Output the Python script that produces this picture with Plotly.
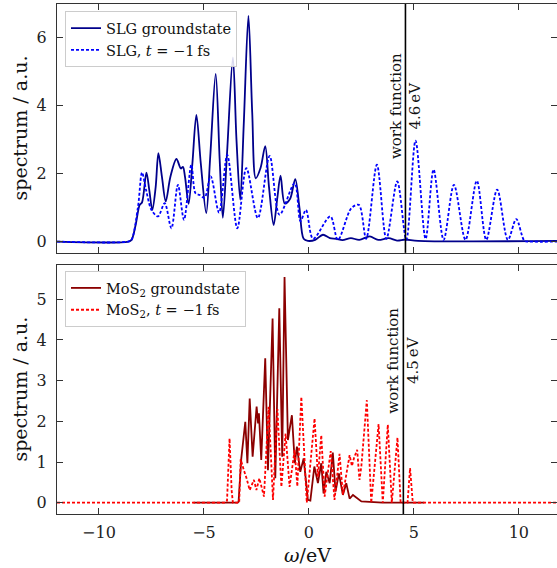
import plotly.graph_objects as go

# ---------------- data ----------------
slg_gs_x = [-12, -8.6, -8.45, -8.25, -8.06, -7.95, -7.74, -7.6, -7.46, -7.3, -7.17, -7.0, -6.82, -6.6,
            -6.31, -6.1, -6.0, -5.9, -5.73, -5.55, -5.36, -5.15, -4.89, -4.7, -4.44, -4.25, -4.1, -3.9,
            -3.62, -3.45, -3.27, -3.1, -2.88, -2.7, -2.53, -2.3, -2.08, -1.9, -1.68, -1.5, -1.35, -1.15,
            -0.9, -0.65, -0.45, -0.25, -0.05, 0.3, 0.67, 1.0, 1.3, 1.6, 2.0, 2.4, 2.9, 3.3, 3.8, 4.2,
            4.6, 5.2, 12]
slg_gs_y = [0, 0, 0.05, 0.5, 1.08, 1.15, 2.03, 1.5, 0.93, 1.6, 2.6, 1.9, 1.18, 1.9,
            2.43, 2.15, 2.2, 1.9, 1.11, 2.3, 3.73, 2.3, 0.84, 2.5, 4.93, 2.4, 0.7, 2.6,
            5.42, 3.0, 1.23, 3.5, 6.64, 3.8, 1.86, 2.17, 2.81, 1.6, 0.49, 1.3, 1.94, 1.12,
            1.25, 1.84, 1.0, 0.08, 0.02, 0.05, 0.2, 0.1, 0.08, 0.04, 0.1, 0.05, 0.15, 0.05, 0.1, 0.03,
            0.06, 0.02, 0.02]

slg_t_x = [-12, -8.6, -8.45, -8.14, -7.95, -7.75, -7.5, -7.19, -6.87, -6.55, -6.24, -5.95, -5.6,
           -5.4, -5.2, -4.97, -4.68, -4.28, -3.89, -3.41, -2.98, -2.43, -1.87, -1.40, -0.68, -0.4,
           -0.14, 0.2, 1.02, 1.38, 2.02, 2.38, 2.73, 3.24, 3.69, 4.21, 4.64, 5.08, 5.56, 5.94, 6.42,
           6.91, 7.46, 8.0, 8.45, 8.97, 9.48, 9.88, 10.27, 10.5, 12]
slg_t_y = [0, 0, 0.05, 1.03, 2.03, 1.5, 0.93, 0.74, 1.13, 0.39, 1.67, 0.64, 2.26,
           1.42, 1.37, 1.29, 1.92, 0.85, 2.55, 0.39, 2.16, 0.69, 2.52, 0.79, 1.72, 0.6,
           0.93, 0.08, 0.74, 0.05, 0.98, 1.08, 0.08, 2.26, 0.08, 1.77, 0.05, 2.97, 0.08, 2.12, 0.05,
           1.67, 0.05, 1.79, 0.05, 1.53, 0.05, 0.66, 0.02, 0, 0]

mos2_gs_x = [-5.5, -3.4, -3.35, -3.22, -3.03, -2.93, -2.82, -2.68, -2.49, -2.42, -2.38, -2.27, -2.08,
             -1.95, -1.73, -1.6, -1.41, -1.27, -1.16, -1.0, -0.81, -0.67, -0.57, -0.41, -0.25, -0.05,
             0.07, 0.26, 0.43, 0.59, 0.7, 0.83, 0.99, 1.14, 1.27, 1.43, 1.62, 1.78, 1.94, 2.1, 2.5,
             3.3, 3.5, 5.5]
mos2_gs_y = [0, 0, 0.02, 1.09, 1.99, 0.97, 2.56, 1.13, 2.36, 1.95, 2.2, 1.05, 3.55,
             0.8, 4.53, 0.6, 4.78, 1.13, 5.55, 1.54, 2.15, 0.97, 1.38, 0.76, 1.09, 0.07,
             0.05, 0.89, 0.48, 0.97, 0.23, 0.76, 0.48, 1.23, 0.27, 0.72, 0.19, 0.48, 0.1, 0.19, 0.03,
             0.01, 0, 0]

mos2_t_x = [-12, -3.98, -3.9, -3.78, -3.68, -3.62, -3.32, -3.25, -3.1, -2.97, -2.82, -2.62, -2.5,
            -2.36, -2.14, -1.92, -1.71, -1.5, -1.31, -1.11, -0.92, -0.68, -0.55, -0.36, -0.1, 0.27,
            0.43, 0.59, 0.75, 1.04, 1.22, 1.46, 1.62, 1.8, 1.94, 2.05, 2.15, 2.3, 2.41, 2.5, 2.76,
            2.97, 3.32, 3.52, 3.76, 3.95, 4.22, 4.37, 4.7, 4.82, 4.95, 12]
mos2_t_y = [0, 0, 0.05, 1.58, 0.3, 0, 0, 1.07, 0.8, 0.6, 0.31, 0.56, 0.31,
            0.6, 0.15, 2.36, 0.07, 2.3, 0.39, 1.7, 0.39, 1.29, 0.4, 2.6, 0.0, 2.07,
            0.64, 1.66, 0.15, 1.27, 0.07, 1.2, 0.2, 0.8, 1.17, 0.9, 1.1, 1.3, 0.56, 0.9, 2.52,
            0, 1.93, 0, 1.92, 0, 1.6, 0, 0, 0.85, 0, 0]

x_ticks = [-10, -5, 0, 5, 10]
top_y_ticks = [0, 2, 4, 6]
bot_y_ticks = [0, 1, 2, 3, 4, 5]
wf_slg = 4.6
wf_mos2 = 4.5

FONT = "DejaVu Serif"
AX = "#333333"

fig = go.Figure()
fig.add_trace(go.Scatter(x=slg_gs_x, y=slg_gs_y, mode="lines", name="SLG groundstate",
                         line=dict(color="#00008B", width=1.8, shape="spline", smoothing=0.9),
                         xaxis="x", yaxis="y", legend="legend"))
fig.add_trace(go.Scatter(x=slg_t_x, y=slg_t_y, mode="lines", name="SLG, <i>t</i> = −1\u2009fs",
                         line=dict(color="#0000FF", width=1.8, dash="3px,2px", shape="spline", smoothing=0.9),
                         xaxis="x", yaxis="y", legend="legend"))
fig.add_trace(go.Scatter(x=mos2_gs_x, y=mos2_gs_y, mode="lines", name="MoS<sub>2</sub> groundstate",
                         line=dict(color="#8B0000", width=1.8),
                         xaxis="x2", yaxis="y2", legend="legend2"))
fig.add_trace(go.Scatter(x=mos2_t_x, y=mos2_t_y, mode="lines", name="MoS<sub>2</sub>, <i>t</i> = −1\u2009fs",
                         line=dict(color="#FF0000", width=1.8, dash="3px,2px"),
                         xaxis="x2", yaxis="y2", legend="legend2"))

axis_common = dict(showline=True, linecolor=AX, linewidth=1, mirror="allticks", ticks="inside",
                   ticklen=6, tickcolor=AX, tickwidth=1, showgrid=False, zeroline=False,
                   tickfont=dict(family=FONT, size=16, color="#222"))

fig.update_layout(
    width=557, height=568,
    margin=dict(l=57, r=0, t=4, b=54),
    paper_bgcolor="white", plot_bgcolor="white",
    showlegend=True,
    xaxis=dict(domain=[0, 1], anchor="y", range=[-12, 11.82], tickvals=x_ticks,
               showticklabels=False, **axis_common),
    yaxis=dict(domain=[0.512, 1], anchor="x", range=[-0.333, 6.99], tickvals=top_y_ticks,
               ticklabelstandoff=6, **axis_common),
    xaxis2=dict(domain=[0, 1], anchor="y2", range=[-12, 11.82], tickvals=x_ticks,
                ticklabelstandoff=4, **axis_common),
    yaxis2=dict(domain=[0, 0.488], anchor="x2", range=[-0.278, 5.84], tickvals=bot_y_ticks,
                ticklabelstandoff=6, **axis_common),
    legend=dict(x=0.016, y=0.986, xanchor="left", yanchor="top",
                bgcolor="rgba(255,255,255,0.85)", bordercolor="#cccccc", borderwidth=1,
                font=dict(family=FONT, size=14.5, color="#111"), tracegroupgap=0),
    legend2=dict(x=0.016, y=0.4765, xanchor="left", yanchor="top",
                 bgcolor="rgba(255,255,255,0.85)", bordercolor="#cccccc", borderwidth=1,
                 font=dict(family=FONT, size=14.5, color="#111"), tracegroupgap=0),
)

fig.add_shape(type="line", xref="x", yref="y domain", x0=wf_slg, x1=wf_slg, y0=0, y1=1,
              line=dict(color="black", width=1.6))
fig.add_shape(type="line", xref="x2", yref="y2 domain", x0=wf_mos2, x1=wf_mos2, y0=0, y1=1,
              line=dict(color="black", width=1.6))

fig.add_annotation(x=wf_slg, y=4.0, xref="x", yref="y", text="work function<br>4.6\u2009eV",
                   textangle=-90, showarrow=False, xanchor="center", yanchor="middle",
                   font=dict(family=FONT, size=15, color="#111"))
fig.add_annotation(x=wf_mos2, y=3.5, xref="x2", yref="y2", text="work function<br>4.5\u2009eV",
                   textangle=-90, showarrow=False, xanchor="center", yanchor="middle",
                   font=dict(family=FONT, size=15, color="#111"))

fig.add_annotation(x=-0.074, y=0.756, xref="paper", yref="paper", text="spectrum / a.u.",
                   textangle=-90, showarrow=False, xanchor="center", yanchor="middle",
                   font=dict(family=FONT, size=19, color="#111"))
fig.add_annotation(x=-0.074, y=0.244, xref="paper", yref="paper", text="spectrum / a.u.",
                   textangle=-90, showarrow=False, xanchor="center", yanchor="middle",
                   font=dict(family=FONT, size=19, color="#111"))
fig.add_annotation(x=0.5, y=-0.08, xref="paper", yref="paper", text="<i>ω</i>/eV",
                   showarrow=False, xanchor="center", yanchor="middle",
                   font=dict(family=FONT, size=19, color="#111"))

fig.write_html("out.html", config={"displayModeBar": False},
               post_script="document.body.style.margin='0';document.body.style.padding='0';"
                           "document.body.style.overflow='hidden';")
